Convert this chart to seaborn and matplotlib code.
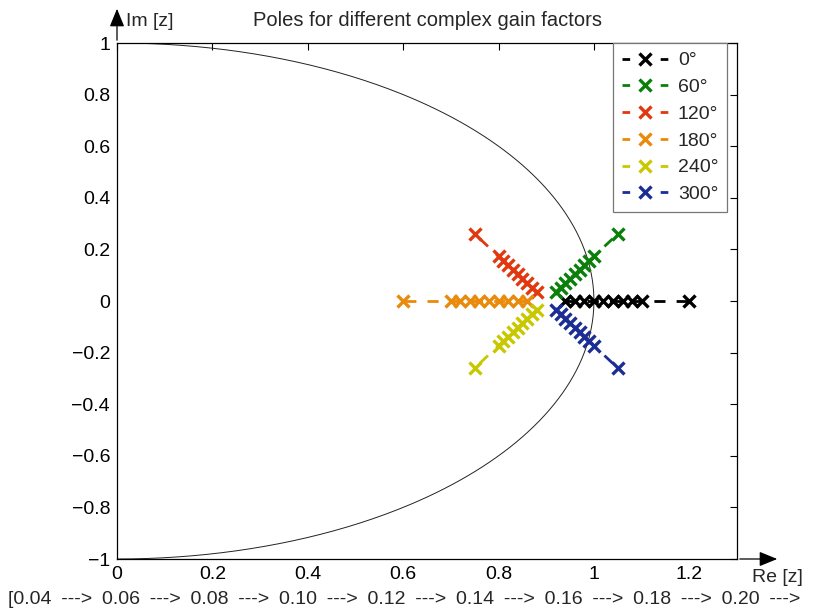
import numpy as np
import pandas as pd
import matplotlib
matplotlib.use("Agg")
import matplotlib.pyplot as plt
import seaborn as sns
from matplotlib.ticker import FuncFormatter

sns.set_style("white")
plt.rcParams['font.family'] = ['Liberation Sans', 'DejaVu Sans']

# ---- data ----
labels = ["0°", "60°", "120°", "180°", "240°", "300°"]
colors = ["#000000", "#0a800a", "#e2380f", "#ea8a0c", "#c8c800", "#1c2d96"]

x_0 = [0.94, 0.96, 0.98, 1.00, 1.02, 1.04, 1.06, 1.08, 1.10, 1.20]
y_0 = [0, 0, 0, 0, 0, 0, 0, 0, 0, 0]
x_60 = [0.92, 0.93, 0.94, 0.95, 0.96, 0.97, 0.98, 0.99, 1.00, 1.05]
y_60 = [0.035, 0.052, 0.069, 0.087, 0.104, 0.121, 0.139, 0.156, 0.173, 0.260]
x_120 = [0.88, 0.87, 0.86, 0.85, 0.84, 0.83, 0.82, 0.81, 0.80, 0.75]
y_120 = [0.035, 0.052, 0.069, 0.087, 0.104, 0.121, 0.139, 0.156, 0.173, 0.260]
x_180 = [0.86, 0.84, 0.82, 0.80, 0.78, 0.76, 0.74, 0.72, 0.70, 0.60]
y_180 = [0, 0, 0, 0, 0, 0, 0, 0, 0, 0]
x_240 = [0.88, 0.87, 0.86, 0.85, 0.84, 0.83, 0.82, 0.81, 0.80, 0.75]
y_240 = [-0.035, -0.052, -0.069, -0.087, -0.104, -0.121, -0.139, -0.156, -0.173, -0.260]
x_300 = [0.92, 0.93, 0.94, 0.95, 0.96, 0.97, 0.98, 0.99, 1.00, 1.05]
y_300 = [-0.035, -0.052, -0.069, -0.087, -0.104, -0.121, -0.139, -0.156, -0.173, -0.260]

xs = [x_0, x_60, x_120, x_180, x_240, x_300]
ys = [y_0, y_60, y_120, y_180, y_240, y_300]

x_ticks = [0, 0.2, 0.4, 0.6, 0.8, 1.0, 1.2]
y_ticks = [-1, -0.8, -0.6, -0.4, -0.2, 0, 0.2, 0.4, 0.6, 0.8, 1]
gains = ["0.04", "0.06", "0.08", "0.10", "0.12", "0.14", "0.16", "0.18", "0.20"]

# ---- figure ----
fig = plt.figure(figsize=(8.15, 6.1), dpi=100)
ax = fig.add_axes([117/815, 1-559/610, (737-117)/815, (559-43)/610])

# unit circle (right half)
t = np.linspace(-np.pi/2, np.pi/2, 400)
ax.plot(np.cos(t), np.sin(t), color="#222222", lw=0.7, zorder=1)

for lab, col, xv, yv in zip(labels, colors, xs, ys):
    df = pd.DataFrame({"x": xv, "y": yv})
    sns.lineplot(data=df, x="x", y="y", ax=ax, sort=False, estimator=None,
                 color=col, linestyle=(0, (4, 4)), lw=2, marker="x",
                 markersize=9, markeredgewidth=2.4, markeredgecolor=col,
                 label=lab, zorder=3)

ax.set_xlim(0, 1.3)
ax.set_ylim(-1, 1)
ax.set_xticks(x_ticks)
ax.set_yticks(y_ticks)
fmt = FuncFormatter(lambda v, p: ("%g" % round(v, 2)).replace("-", "\u2212"))
ax.xaxis.set_major_formatter(fmt)
ax.yaxis.set_major_formatter(fmt)
ax.tick_params(direction="in", length=5, width=0.8, top=True, right=True,
               labelsize=14, colors="black", pad=5)
for s in ax.spines.values():
    s.set_color("black")
    s.set_linewidth(0.9)
ax.set_xlabel("")
ax.set_ylabel("")

leg = ax.legend(loc="upper right", bbox_to_anchor=((727-117)/620, 1.0),
                fontsize=14, frameon=True, fancybox=False,
                handlelength=2.36, borderaxespad=0.0, labelspacing=0.47,
                handletextpad=0.5, borderpad=0.45)
leg.get_frame().set_edgecolor("#777777")
leg.get_frame().set_linewidth(0.9)
leg.get_frame().set_alpha(1)
for ln in leg.get_lines():
    ln.set_linestyle((0, (2.75, 11.0)))

ax.set_title("Poles for different complex gain factors", fontsize=14.5, pad=12)

# axis arrows
fig.patches.append(matplotlib.patches.FancyArrowPatch(
    (737/815, 1-559/610), (780/815, 1-559/610), transform=fig.transFigure,
    arrowstyle="-|>,head_length=11,head_width=4.5", mutation_scale=1,
    color="black", lw=0.9))
fig.patches.append(matplotlib.patches.FancyArrowPatch(
    (117/815, 1-43/610), (117/815, 1-6/610), transform=fig.transFigure,
    arrowstyle="-|>,head_length=11,head_width=4.5", mutation_scale=1,
    color="black", lw=0.9))

fig.text(777/815, 1-578/610, "Re [z]", fontsize=14, ha="center", va="center")
fig.text(126/815, 1-22/610, "Im [z]", fontsize=14, ha="left", va="center")
sp = "\u2002"
gain_text = "[" + (sp + "--->" + sp).join(gains) + sp + "--->"
fig.text(8/815, 1-599/610, gain_text, fontsize=14, ha="left", va="center")

fig.savefig("out.png", dpi=100)
